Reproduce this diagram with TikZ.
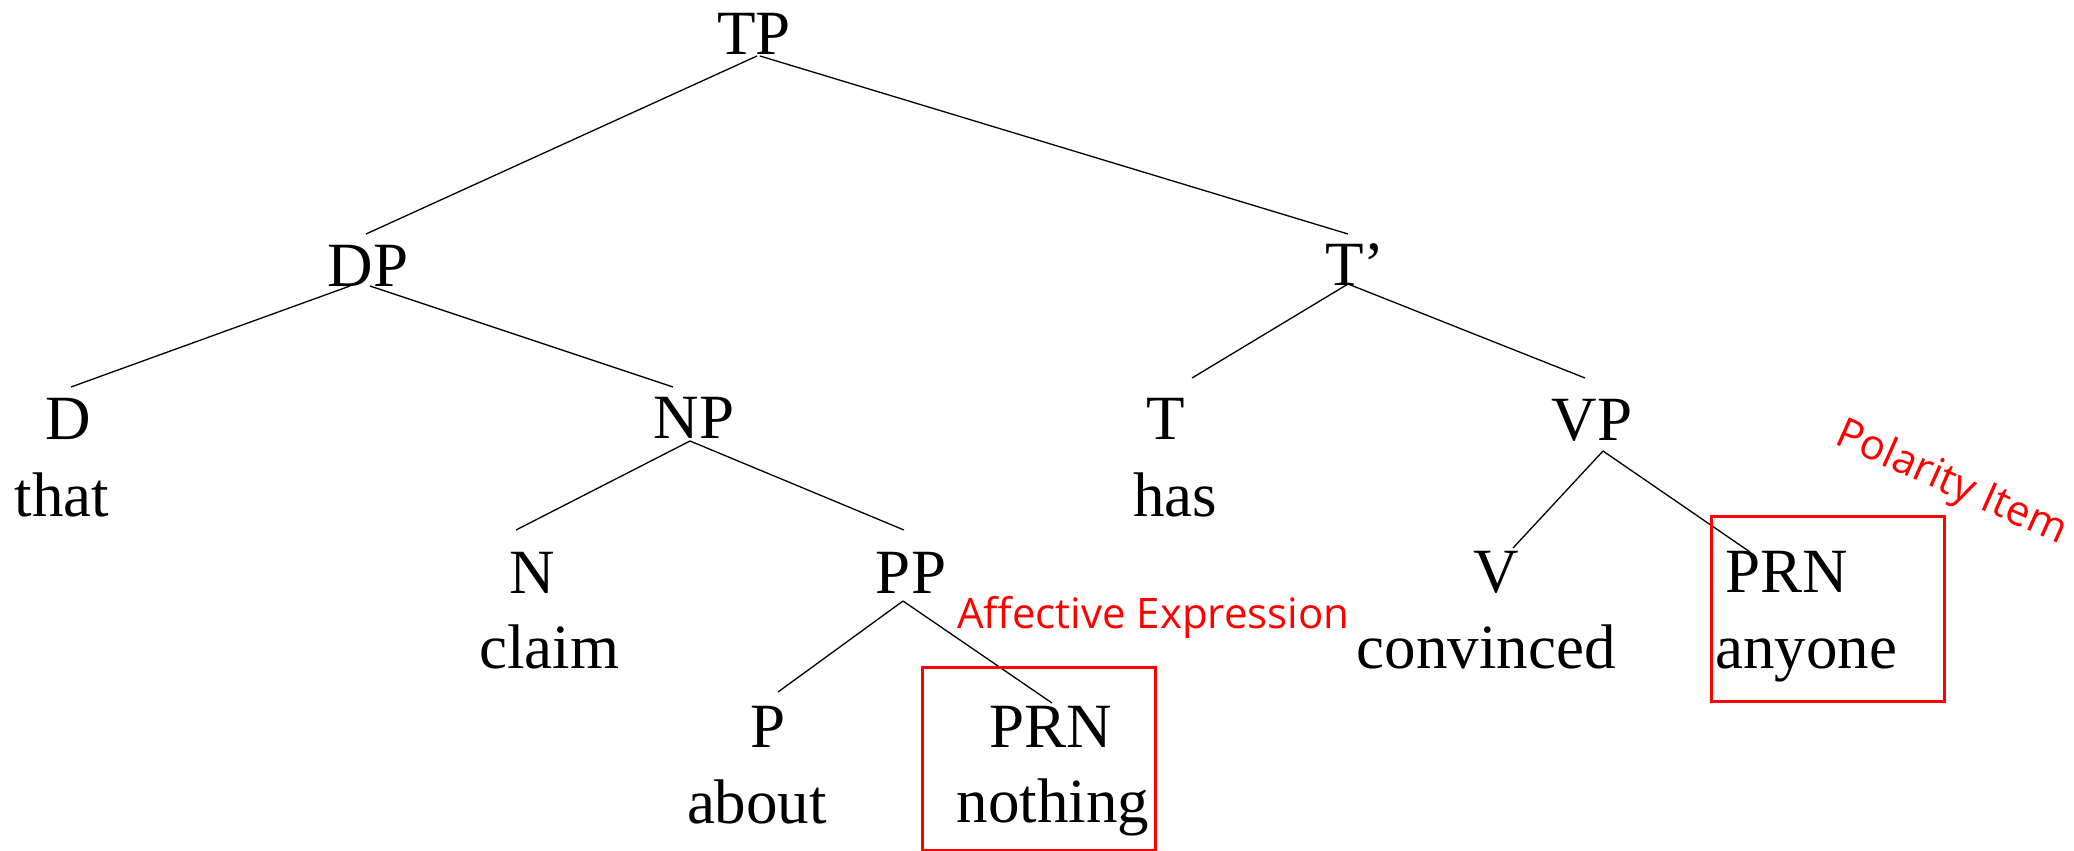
\documentclass[tikz,border=0pt]{standalone}
\usepackage{fontspec}
\setmainfont{Liberation Serif}
\newfontfamily\notefont{Open Sans}
\usetikzlibrary{calc}
\tikzset{
  lab/.style={anchor=base, inner sep=0pt, font=\fontsize{63}{63}\selectfont},
  branch/.style={draw=black, line width=1.3pt},
  hlbox/.style={draw=red, line width=3pt, inner sep=0pt, fill=none},
  note/.style={text=red, inner sep=0pt, font=\notefont\fontsize{42}{42}\selectfont}
}
\begin{document}
\begin{tikzpicture}[x=1pt,y=-1pt]
\useasboundingbox (0,0) rectangle (2074,851);
% categories
\node[lab] (TP)  at (754,55)  {TP};
\node[lab] (DP)  at (368,286) {DP};
\node[lab] (Tb)  at (1355,285) {T’};
\node[lab] (D)   at (68,439)  {D};
\node[lab] (NP)  at (694,438) {NP};
\node[lab] (T)   at (1166,439) {T};
\node[lab] (VP)  at (1592,440) {VP};
\node[lab] (N)   at (532,593) {N};
\node[lab] (PP)  at (911,593) {PP};
\node[lab] (V)   at (1496,592) {V};
\node[lab] (PRNb) at (1787,592) {PRN};
\node[lab] (P)   at (768,747) {P};
\node[lab] (PRNa) at (1051,747) {PRN};
% words
\node[lab] (wthat)  at (62,516)   {that};
\node[lab] (whas)   at (1175,516) {has};
\node[lab] (wclaim) at (549,668)  {claim};
\node[lab] (wconv)  at (1486,668) {convinced};
\node[lab] (wany)   at (1806,668) {anyone};
\node[lab] (wabout) at (757,823)  {about};
\node[lab] (wnoth)  at (1053,822) {nothing};
% branches
\draw[branch] ($(TP.base)+(3,1)$)   -- ($(DP.base)+(-2,-52)$);
\draw[branch] ($(TP.base)+(6,1)$)   -- ($(Tb.base)+(-7,-51)$);
\draw[branch] ($(DP.base)+(-18,0)$) -- ($(D.base)+(3,-52)$);
\draw[branch] ($(DP.base)+(2,0)$)   -- ($(NP.base)+(-21,-51)$);
\draw[branch] ($(Tb.base)+(-7,-1)$) -- ($(T.base)+(26,-61)$);
\draw[branch] ($(Tb.base)+(-7,-1)$) -- ($(VP.base)+(-7,-62)$);
\draw[branch] ($(NP.base)+(-4,3)$)  -- ($(N.base)+(-16,-63)$);
\draw[branch] ($(NP.base)+(-4,3)$)  -- ($(PP.base)+(-7,-63)$);
\draw[branch] ($(VP.base)+(11,11)$) -- ($(V.base)+(17,-44)$);
\draw[branch] ($(VP.base)+(11,11)$) -- ($(PRNb.base)+(-37,-40)$);
\draw[branch] ($(PP.base)+(-8,8)$)  -- ($(P.base)+(10,-55)$);
\draw[branch] ($(PP.base)+(-8,8)$)  -- ($(PRNa.base)+(1,-44)$);
% highlight boxes
\node[hlbox, minimum width=233pt, minimum height=183pt] (boxa) at (1038.5,758.5) {};
\node[hlbox, minimum width=233pt, minimum height=185pt] (boxb) at (1827.5,608.5) {};
% notes
\node[note, anchor=base west] (affective) at (957,628) {Affective Expression};
\node[note, rotate=-24] (polarity) at (1951,484) {Polarity Item};
\end{tikzpicture}
\end{document}
